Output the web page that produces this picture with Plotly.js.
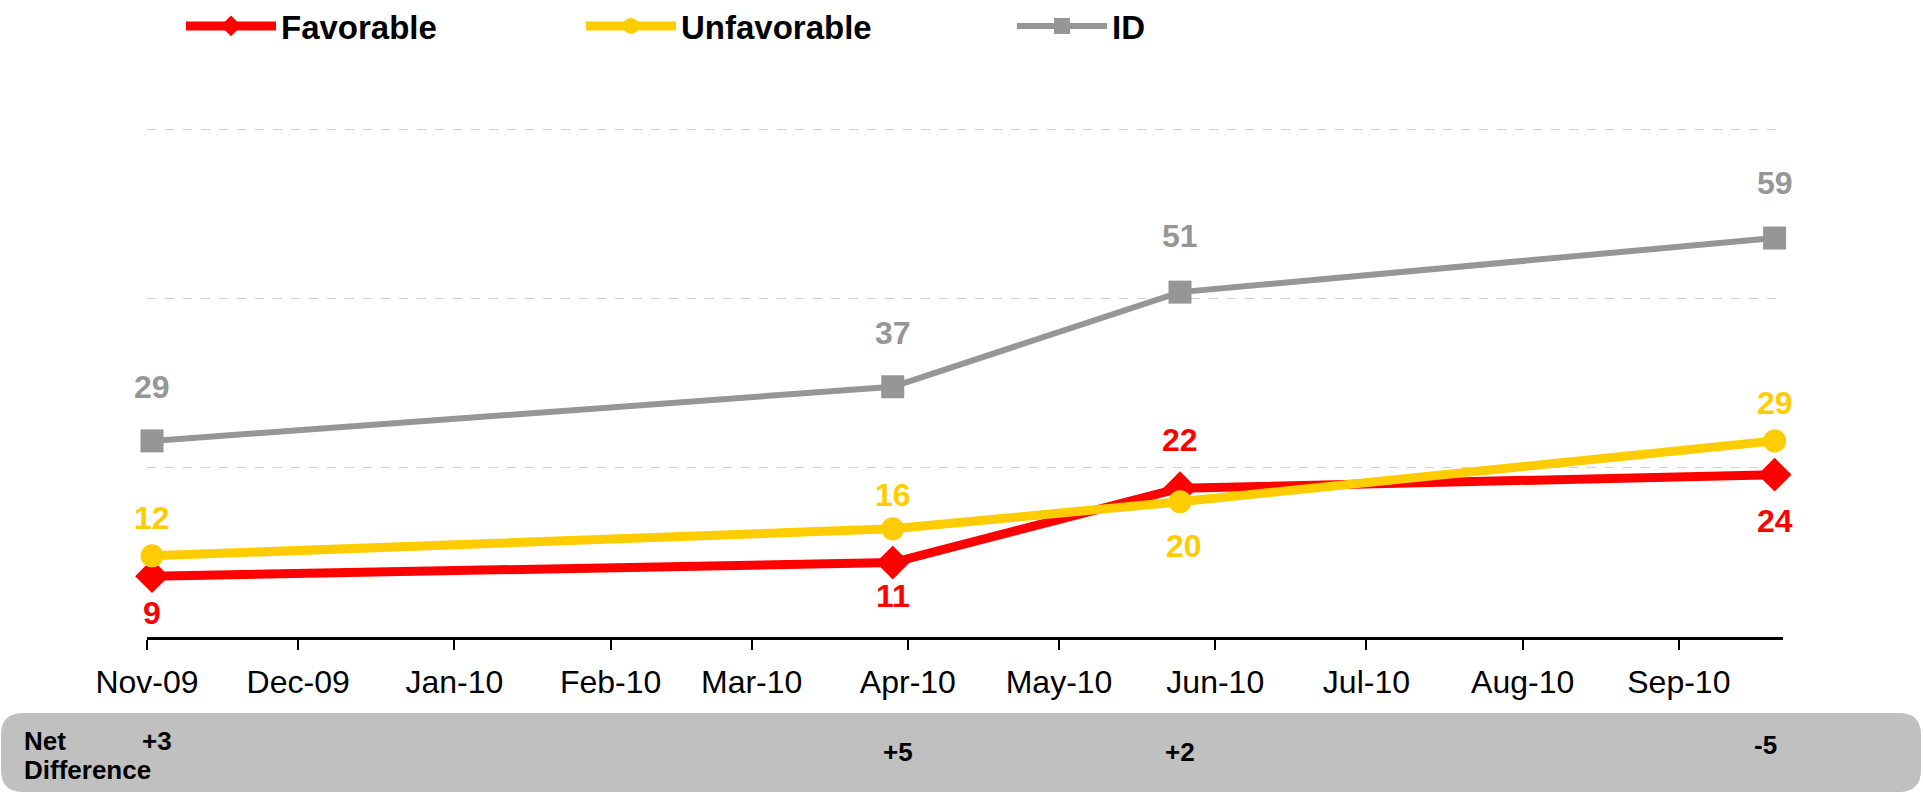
<!DOCTYPE html>
<html>
<head>
<meta charset="utf-8">
<script src="https://cdn.plot.ly/plotly-3.0.1.min.js"></script>
<style>
  html, body { margin: 0; padding: 0; background: #ffffff; }
  #chart { width: 1923px; height: 793px; }
</style>
</head>
<body>
<div id="chart"></div>
<script>
// ---- data ----
var dates = ['2009-11-02', '2010-03-29', '2010-05-25', '2010-09-20'];
var favorable = [9, 11, 22, 24];
var unfavorable = [12, 16, 20, 29];
var idValues = [29, 37, 51, 59];
var netDiff = ['+3', '+5', '+2', '-5'];
var seriesNames = ['Favorable', 'Unfavorable', 'ID'];

// ---- styling ----
var RED = '#FF0000', YELLOW = '#FFCC00', GRAY = '#969696';
var FONT = 'Liberation Sans, Arial, Helvetica, sans-serif';
// vertical offset (px, + is up) of each value label from its marker
var favLabelOffset = [-37, -33, 48, -46];
var unfavLabelOffset = [38, 34, -44, 38];
var idLabelOffset = [54, 54, 56, 55];
var unfavLabelXShift = [0, 0, 4, 0];

var W = 1923, H = 793;
var margin = {l: 147, r: 140, t: 96, b: 156, autoexpand: false};
var plotW = W - margin.l - margin.r;
var plotH = H - margin.t - margin.b;

function px2x(px) { return (px - margin.l) / plotW; }
function py2y(py) { return (H - margin.b - py) / plotH; }

var traces = [
  {
    type: 'scatter', mode: 'lines+markers', name: seriesNames[0], legend: 'legend',
    x: dates, y: favorable, cliponaxis: false,
    line: {color: RED, width: 9},
    marker: {symbol: 'diamond', size: 26, color: RED}
  },
  {
    type: 'scatter', mode: 'lines+markers', name: seriesNames[1], legend: 'legend2',
    x: dates, y: unfavorable, cliponaxis: false,
    line: {color: YELLOW, width: 9},
    marker: {symbol: 'circle', size: 23, color: YELLOW}
  },
  {
    type: 'scatter', mode: 'lines+markers', name: seriesNames[2], legend: 'legend3',
    x: dates, y: idValues, cliponaxis: false,
    line: {color: GRAY, width: 6},
    marker: {symbol: 'square', size: 23, color: GRAY}
  }
];

var annotations = [];
function addLabels(values, offsets, color, xshifts) {
  for (var i = 0; i < values.length; i++) {
    annotations.push({
      xref: 'x', yref: 'y', x: dates[i], y: values[i],
      text: '<b>' + values[i] + '</b>', showarrow: false,
      xanchor: 'center', yanchor: 'middle',
      yshift: offsets[i], xshift: xshifts ? xshifts[i] : 0,
      font: {family: FONT, size: 32, color: color}
    });
  }
}
addLabels(favorable, favLabelOffset, RED);
addLabels(unfavorable, unfavLabelOffset, YELLOW, unfavLabelXShift);
addLabels(idValues, idLabelOffset, GRAY);

// Net difference band labels
var NET_ROW1 = 741, NET_ROW2 = 770, NET_VAL_ROW = 752;
var netXShift = [5, 5, 0, -9];
var netYRow = [NET_ROW1, NET_VAL_ROW, NET_VAL_ROW, 745];
annotations.push({
  xref: 'paper', yref: 'paper', x: px2x(22), y: py2y(NET_ROW1),
  xanchor: 'left', yanchor: 'middle', showarrow: false,
  text: '<b>Net</b>', font: {family: FONT, size: 26, color: '#000000'}
});
annotations.push({
  xref: 'paper', yref: 'paper', x: px2x(22), y: py2y(NET_ROW2),
  xanchor: 'left', yanchor: 'middle', showarrow: false,
  text: '<b>Difference</b>', font: {family: FONT, size: 26, color: '#000000'}
});
for (var i = 0; i < netDiff.length; i++) {
  annotations.push({
    xref: 'x', yref: 'paper', x: dates[i], y: py2y(netYRow[i]),
    xshift: netXShift[i],
    xanchor: 'center', yanchor: 'middle', showarrow: false,
    text: '<b>' + netDiff[i] + '</b>',
    font: {family: FONT, size: 26, color: '#000000'}
  });
}

// rounded grey band
function roundedRectPath(x0, y0, x1, y1, r) {
  var X = function (p) { return px2x(p).toFixed(6); };
  var Y = function (p) { return py2y(p).toFixed(6); };
  return 'M' + X(x0 + r) + ',' + Y(y0) +
    ' L' + X(x1 - r) + ',' + Y(y0) +
    ' Q' + X(x1) + ',' + Y(y0) + ' ' + X(x1) + ',' + Y(y0 + r) +
    ' L' + X(x1) + ',' + Y(y1 - r) +
    ' Q' + X(x1) + ',' + Y(y1) + ' ' + X(x1 - r) + ',' + Y(y1) +
    ' L' + X(x0 + r) + ',' + Y(y1) +
    ' Q' + X(x0) + ',' + Y(y1) + ' ' + X(x0) + ',' + Y(y1 - r) +
    ' L' + X(x0) + ',' + Y(y0 + r) +
    ' Q' + X(x0) + ',' + Y(y0) + ' ' + X(x0 + r) + ',' + Y(y0) + ' Z';
}

var shapes = [{
  type: 'path', xref: 'paper', yref: 'paper', layer: 'below',
  path: roundedRectPath(1, 713, 1921, 792, 22),
  fillcolor: '#C0C0C0', line: {width: 0}
}];

function legendAt(textStartPx) {
  return {
    orientation: 'h', x: px2x(textStartPx - 100), xanchor: 'left',
    y: py2y(26), yanchor: 'middle',
    font: {family: FONT, size: 33, color: '#000000', weight: 'bold'},
    itemwidth: 90, bgcolor: 'rgba(0,0,0,0)'
  };
}

var layout = {
  width: W, height: H,
  margin: margin,
  paper_bgcolor: '#ffffff', plot_bgcolor: '#ffffff',
  showlegend: true,
  legend: legendAt(281),
  legend2: legendAt(681),
  legend3: legendAt(1112),
  xaxis: {
    type: 'date',
    range: ['2009-11-01', '2010-09-21 16:00'],
    tick0: '2009-11-01', dtick: 'M1', tickformat: '%b-%y',
    ticks: 'outside', ticklen: 10, tickwidth: 2, tickcolor: '#000000',
    showline: true, linewidth: 3, linecolor: '#000000',
    showgrid: false, zeroline: false,
    ticklabelstandoff: 5,
    tickfont: {family: FONT, size: 32, color: '#000000'}
  },
  yaxis: {
    range: [0, 80],
    tickvals: [25, 50, 75],
    showticklabels: false, ticks: '',
    showgrid: true, gridcolor: '#D0D0D0', gridwidth: 1, griddash: 'dash',
    zeroline: false, showline: false
  },
  annotations: annotations,
  shapes: shapes
};

Plotly.newPlot('chart', traces, layout, {displayModeBar: false, staticPlot: true});
</script>
</body>
</html>
